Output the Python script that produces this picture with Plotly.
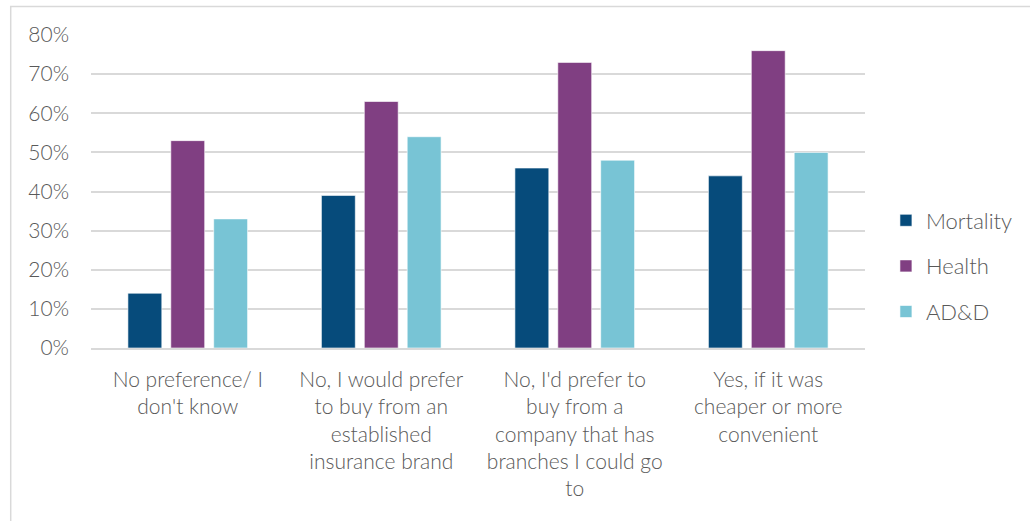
import plotly.graph_objects as go

# Survey answers (x-axis categories)
categories = [
    "No preference/ I<br>don't know",
    "No, I would prefer<br>to buy from an<br>established<br>insurance brand",
    "No, I'd prefer to<br>buy from a<br>company that has<br>branches I could go<br>to",
    "Yes, if it was<br>cheaper or more<br>convenient",
]

# Share of respondents per product line
mortality = [0.14, 0.39, 0.46, 0.44]
health = [0.53, 0.63, 0.73, 0.76]
add = [0.33, 0.54, 0.48, 0.50]

series_names = ["Mortality", "Health", "AD&D"]
series_colors = ["#064b7b", "#803f82", "#78c4d5"]

y_ticks = [0, 0.1, 0.2, 0.3, 0.4, 0.5, 0.6, 0.7, 0.8]

FONT = "Lato"
TEXT_COLOR = "#595959"
GRID_COLOR = "#d9d9d9"

W, H = 1030, 521
L, R, T, B = 91, 163, 35, 173
pw, ph = W - L - R, H - T - B

fig = go.Figure()
for i, (name, vals, col) in enumerate(zip(series_names, [mortality, health, add], series_colors)):
    fig.add_trace(go.Bar(
        x=categories, y=vals, name=name,
        marker=dict(color=col, line=dict(color="rgba(255,255,255,0.8)", width=0.75)),
        legendgroup=name,
    ))

# Light chart-area border (left and top edges visible, rest runs off the page)
fig.add_shape(
    type="rect", xref="paper", yref="paper",
    x0=(10.5 - L) / pw, x1=(W + 10 - L) / pw,
    y0=-(B + 10) / ph, y1=(H - B - 6.5) / ph,
    line=dict(color=GRID_COLOR, width=1.5), fillcolor="rgba(0,0,0,0)",
    layer="below",
)

fig.update_layout(
    width=W, height=H,
    margin=dict(l=L, r=R, t=T, b=B, pad=0),
    paper_bgcolor="white", plot_bgcolor="white",
    barmode="group", bargap=0.335, bargroupgap=0.21,
    font=dict(family=FONT, size=21, color=TEXT_COLOR, weight=300),
    showlegend=True,
    legend=dict(
        x=(888 - L) / pw, y=(H - B - 266) / ph, xanchor="left", yanchor="middle",
        font=dict(family=FONT, size=22, color=TEXT_COLOR, weight=300),
        tracegroupgap=14, itemwidth=30, bgcolor="rgba(0,0,0,0)",
    ),
    xaxis=dict(
        showgrid=False, showline=True, linecolor=GRID_COLOR, linewidth=1.5,
        ticks="", tickfont=dict(family=FONT, size=21, color=TEXT_COLOR, weight=300),
        ticklabelstandoff=12, tickangle=0,
    ),
    yaxis=dict(
        range=[0, 0.8], tickvals=y_ticks, tickformat=".0%",
        showgrid=True, gridcolor=GRID_COLOR, gridwidth=1.5,
        zeroline=False, showline=False, ticks="",
        tickfont=dict(family=FONT, size=21, color=TEXT_COLOR, weight=300),
        ticklabelstandoff=21,
    ),
)

fig.write_html("out.html")
